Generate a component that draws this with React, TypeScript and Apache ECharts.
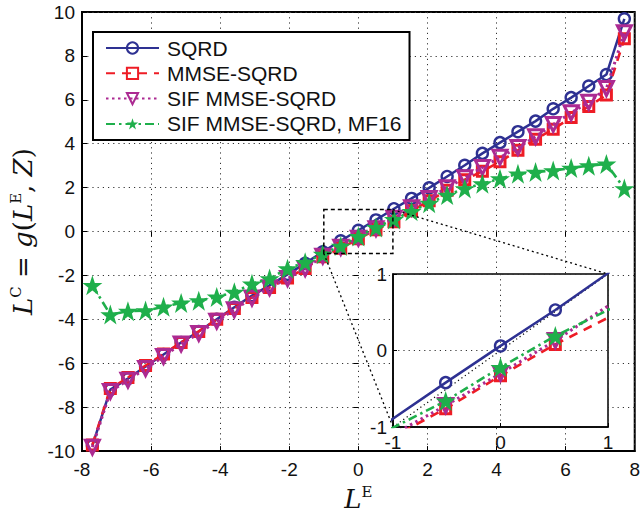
import React, { useEffect, useRef } from "react";
import * as echarts from "echarts";

// L^E sample positions
const LE = [
  -7.7, -7.18, -6.67, -6.16, -5.64, -5.13, -4.62, -4.1, -3.59, -3.08, -2.57,
  -2.05, -1.54, -1.03, -0.51, 0, 0.51, 1.03, 1.54, 2.05, 2.57, 3.08, 3.59,
  4.1, 4.62, 5.13, 5.64, 6.16, 6.67, 7.18, 7.7,
];
const SQRD = [
  -9.75, -7.2, -6.7, -6.15, -5.6, -5.05, -4.55, -4.0, -3.45, -2.92, -2.45,
  -1.95, -1.45, -0.92, -0.42, 0.06, 0.53, 1.04, 1.51, 1.99, 2.51, 3.02, 3.56,
  4.05, 4.55, 5.03, 5.59, 6.1, 6.63, 7.15, 9.69,
];
const MMSE_SQRD = [
  -9.72, -7.15, -6.65, -6.1, -5.58, -5.05, -4.55, -4.0, -3.5, -3.0, -2.55,
  -2.12, -1.68, -1.15, -0.76, -0.33, 0.08, 0.45, 0.95, 1.4, 1.88, 2.36, 2.75,
  3.18, 3.7, 4.2, 4.66, 5.2, 5.7, 6.22, 8.78,
];
const SIF_MMSE_SQRD = [
  -9.82, -7.28, -6.77, -6.24, -5.69, -5.12, -4.64, -4.08, -3.56, -3.03, -2.56,
  -2.14, -1.69, -1.12, -0.72, -0.3, 0.13, 0.61, 1.08, 1.51, 2.0, 2.45, 2.92,
  3.38, 3.83, 4.32, 4.88, 5.41, 5.89, 6.51, 9.06,
];
const SIF_MF16 = [
  -2.45, -3.78, -3.63, -3.6, -3.43, -3.25, -3.15, -2.98, -2.76, -2.38, -2.14,
  -1.69, -1.4, -1.03, -0.66, -0.22, 0.19, 0.55, 0.92, 1.29, 1.66, 1.96, 2.18,
  2.41, 2.63, 2.71, 2.78, 2.89, 3.0, 3.08, 1.96,
];
const NAMES = ["SQRD", "MMSE-SQRD", "SIF MMSE-SQRD", "SIF MMSE-SQRD, MF16"];
const ZOOM_RANGE = [-1, 1];

const BLUE = "#2E3192";
const RED = "#EE1C25";
const MAGENTA = "#AC2A92";
const GREEN = "#1FAF4B";
const FONT = "Liberation Sans, Arial, Helvetica, sans-serif";
const STAR =
  "path://M50,0 L61.8,34.5 L97.6,34.5 L68.8,55.9 L79.4,90.5 L50,69.1 L20.6,90.5 L31.2,55.9 L2.4,34.5 L38.2,34.5 Z";

const pairs = (ys: number[]) => LE.map((x, i) => [x, ys[i]]);

export default function App() {
  const ref = useRef<HTMLDivElement>(null);
  useEffect(() => {
    if (!ref.current) return;
    const chart = echarts.init(ref.current, null, { renderer: "svg" });

    const styles = [
      {
        color: BLUE,
        lineStyle: { color: BLUE, width: 2.5, type: "solid" },
        symbol: "circle",
        symbolSize: 11,
        itemStyle: { color: "rgba(255,255,255,0)", borderColor: BLUE, borderWidth: 2.4 },
        symbolRotate: 0,
        data: SQRD,
      },
      {
        color: RED,
        lineStyle: { color: RED, width: 2.6, type: [9, 7] },
        symbol: "rect",
        symbolSize: 10,
        itemStyle: { color: "rgba(255,255,255,0)", borderColor: RED, borderWidth: 3 },
        symbolRotate: 0,
        data: MMSE_SQRD,
      },
      {
        color: MAGENTA,
        lineStyle: { color: MAGENTA, width: 3, type: [2.5, 3.5] },
        symbol: "triangle",
        symbolSize: 14,
        itemStyle: { color: "rgba(255,255,255,0)", borderColor: MAGENTA, borderWidth: 3 },
        symbolRotate: 180,
        data: SIF_MMSE_SQRD,
      },
      {
        color: GREEN,
        lineStyle: { color: GREEN, width: 2.6, type: [9, 4, 2.5, 4] },
        symbol: STAR,
        symbolSize: 20,
        itemStyle: { color: GREEN, borderColor: GREEN, borderWidth: 0 },
        symbolRotate: 0,
        data: SIF_MF16,
      },
    ];

    const mk = (s: any, i: number, axis: number, z: number) => ({
      type: "line",
      name: NAMES[i],
      xAxisIndex: axis,
      yAxisIndex: axis,
      data: pairs(s.data),
      color: s.color,
      lineStyle: s.lineStyle,
      symbol: s.symbol,
      symbolSize: s.symbolSize,
      symbolRotate: s.symbolRotate,
      itemStyle: s.itemStyle,
      showAllSymbol: true,
      clip: true,
      z: z + i * 0.1,
      silent: true,
    });
    const mainSeries = styles.map((s, i) => mk(s, i, 0, 2));
    const insetSeries = styles.map((s, i) => mk(s, i, 1, 8));

    const gridLine = { show: true, lineStyle: { color: "#333", width: 1, type: [1.2, 4] } };
    const axLabel = { color: "#111", fontSize: 19, fontFamily: FONT };
    const richI = { fontFamily: "DejaVu Serif, serif", fontStyle: "italic", fontSize: 26, color: "#111", lineHeight: 30 };
    const richN = { fontFamily: "DejaVu Serif, serif", fontSize: 26, color: "#111", lineHeight: 30 };
    const richS = { fontFamily: "DejaVu Serif, serif", fontSize: 15, color: "#111", verticalAlign: "top", lineHeight: 30, padding: [0, 0, 12, 0] };

    chart.setOption({
      animation: false,
      backgroundColor: "#fff",
      grid: [
        {
          left: 73, top: 12, width: 568, height: 447,
          show: true, borderColor: "#000", borderWidth: 2, backgroundColor: "transparent",
        },
        {
          left: 393, top: 274, width: 215, height: 153,
          show: true, borderColor: "#000", borderWidth: 1.5, backgroundColor: "#fff", z: 5,
        },
      ],
      xAxis: [
        {
          type: "value", gridIndex: 0, min: -8, max: 8, interval: 2,
          axisLine: { show: true, onZero: false, lineStyle: { color: "#000", width: 2 } },
          axisTick: { show: true, inside: true, length: 5, lineStyle: { color: "#000" } },
          axisLabel: { ...axLabel, margin: 9 },
          splitLine: gridLine,
          name: "{i|L}{s|E}",
          nameLocation: "middle",
          nameGap: 31,
          nameTextStyle: { rich: { i: richI, s: richS } },
        },
        {
          type: "value", gridIndex: 1, min: -1, max: 1, interval: 1,
          axisLine: { show: true, onZero: false, lineStyle: { color: "#000", width: 1.5 } },
          axisTick: { show: true, inside: true, length: 4, lineStyle: { color: "#000" } },
          axisLabel: { ...axLabel, margin: 6 },
          splitLine: gridLine,
          z: 6,
        },
        {
          type: "value", gridIndex: 0, min: -8, max: 8, interval: 2, position: "top",
          axisLine: { show: false },
          axisTick: { show: true, inside: true, length: 5, lineStyle: { color: "#000" } },
          axisLabel: { show: false },
          splitLine: { show: false },
        },
      ],
      yAxis: [
        {
          type: "value", gridIndex: 0, min: -10, max: 10, interval: 2,
          axisLine: { show: true, onZero: false, lineStyle: { color: "#000", width: 2 } },
          axisTick: { show: true, inside: true, length: 5, lineStyle: { color: "#000" } },
          axisLabel: { ...axLabel, margin: 7 },
          splitLine: gridLine,
          name: "{i|L}{s|C}{n| = }{i|g}{n|(}{i|L}{s|E}{n|, }{i|Z}{n|)}",
          nameLocation: "middle",
          nameRotate: 90,
          nameGap: 44,
          nameTextStyle: { rich: { i: richI, n: richN, s: richS } },
        },
        {
          type: "value", gridIndex: 1, min: -1, max: 1, interval: 1,
          axisLine: { show: true, onZero: false, lineStyle: { color: "#000", width: 1.5 } },
          axisTick: { show: true, inside: true, length: 4, lineStyle: { color: "#000" } },
          axisLabel: { ...axLabel, margin: 6 },
          splitLine: gridLine,
          z: 6,
        },
        {
          type: "value", gridIndex: 0, min: -10, max: 10, interval: 2, position: "right",
          axisLine: { show: false },
          axisTick: { show: true, inside: true, length: 5, lineStyle: { color: "#000" } },
          axisLabel: { show: false },
          splitLine: { show: false },
        },
      ],
      legend: {
        data: NAMES,
        orient: "vertical",
        left: 93,
        top: 32,
        itemWidth: 53,
        itemHeight: 14,
        itemGap: 4.3,
        padding: [5.5, 8, 5.5, 12],
        borderColor: "#000",
        borderWidth: 2,
        backgroundColor: "#fff",
        textStyle: { fontSize: 21, fontFamily: FONT, color: "#111", lineHeight: 21, padding: [0, 0, 0, 3] },
        z: 10,
      },
      series: [
        ...mainSeries,
        {
          type: "line",
          name: "ref",
          xAxisIndex: 1,
          yAxisIndex: 1,
          data: [[ZOOM_RANGE[0], ZOOM_RANGE[0]], [ZOOM_RANGE[1], ZOOM_RANGE[1]]],
          symbol: "none",
          lineStyle: { color: "#000", width: 1.2, type: [1.2, 3] },
          z: 7,
          silent: true,
        },
        ...insetSeries,
      ],
    });

    const a = chart.convertToPixel({ gridIndex: 0 }, [ZOOM_RANGE[0], ZOOM_RANGE[0]]) as number[];
    const b = chart.convertToPixel({ gridIndex: 0 }, [ZOOM_RANGE[1], ZOOM_RANGE[1]]) as number[];
    const c = chart.convertToPixel({ gridIndex: 1 }, [ZOOM_RANGE[0], ZOOM_RANGE[0]]) as number[];
    const d = chart.convertToPixel({ gridIndex: 1 }, [ZOOM_RANGE[1], ZOOM_RANGE[1]]) as number[];
    const dash = { stroke: "#000", lineWidth: 1.3, lineDash: [2, 3], fill: null };
    chart.setOption({
      graphic: [
        {
          type: "rect",
          shape: { x: a[0], y: b[1], width: b[0] - a[0], height: a[1] - b[1] },
          style: { stroke: "#000", lineWidth: 1.5, lineDash: [4, 3], fill: null },
          z: 4,
          silent: true,
        },
        { type: "line", shape: { x1: a[0], y1: a[1], x2: c[0], y2: c[1] }, style: dash, z: 4, silent: true },
        { type: "line", shape: { x1: b[0], y1: b[1], x2: d[0], y2: d[1] }, style: dash, z: 4, silent: true },
      ],
    });

    return () => chart.dispose();
  }, []);
  return (
    <div
      ref={ref}
      style={{ position: "fixed", left: 0, top: 0, width: 643, height: 517, background: "#fff" }}
    />
  );
}
